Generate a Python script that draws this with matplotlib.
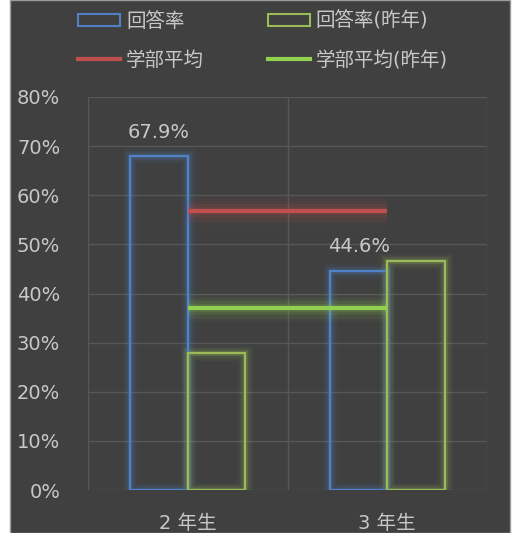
import matplotlib
matplotlib.use("Agg")
import matplotlib.pyplot as plt
from matplotlib.patches import Rectangle, Patch
from matplotlib.lines import Line2D
import numpy as np

plt.rcParams['font.family'] = ['DejaVu Sans', 'Noto Sans CJK JP']

categories = ["2 年生", "3 年生"]
rate = [67.9, 44.6]
rate_prev = [27.9, 46.7]
dept_avg = [56.8, 56.8]
dept_avg_prev = [37.1, 37.1]
yticks = [0, 10, 20, 30, 40, 50, 60, 70, 80]

bg = "#404040"
txt = "#c8c8c8"
grid_c = "#575757"
blue = "#4f81c7"
green_bar = "#9bbb59"
red = "#c0504d"
green_line = "#92d050"
fs = 14

fig = plt.figure(figsize=(5.16, 5.33), dpi=100)
fig.patch.set_facecolor("white")
fig.patches.append(Rectangle((10 / 516, 0), 500 / 516, 1, transform=fig.transFigure,
                             facecolor=bg, edgecolor="#9a9a9a", linewidth=1.0, zorder=-10))

ax = fig.add_axes([88 / 516, 43 / 533, 399 / 516, 393 / 533])
ax.set_facecolor("none")
for sp in ax.spines.values():
    sp.set_visible(False)

ax.set_xlim(-0.5, 1.5)
ax.set_ylim(0, 80)

# grid
for y in yticks:
    ax.axhline(y, color=grid_c, lw=1, zorder=1)
for xv in [-0.5, 0.5, 1.5]:
    ax.axvline(xv, color=grid_c, lw=1, zorder=1)

x = np.arange(len(categories))
w = 0.2875


def glow_bars(xs, vals, color):
    for lw, a in [(11, 0.05), (8, 0.07), (5.5, 0.1), (3.5, 0.16)]:
        ax.bar(xs, vals, width=w, facecolor="none", edgecolor=color, linewidth=lw,
               alpha=a, zorder=2)
    ax.bar(xs, vals, width=w, facecolor="none", edgecolor=color, linewidth=1.6, zorder=3)


glow_bars(x - w / 2, rate, blue)
glow_bars(x + w / 2, rate_prev, green_bar)


def glow_line(vals, color):
    for lw, a in [(20, 0.05), (15, 0.07), (10, 0.1), (6, 0.14)]:
        ax.plot(x, vals, color=color, lw=lw, alpha=a, solid_capstyle="butt", zorder=4)
    ax.plot(x, vals, color=color, lw=3, solid_capstyle="butt", zorder=5)


glow_line(dept_avg, red)
glow_line(dept_avg_prev, green_line)

for xi, v in zip(x - w / 2, rate):
    ax.text(xi, v + 3.0, f"{v:.1f}%", ha="center", va="bottom", color=txt, fontsize=fs)

ax.set_yticks(yticks)
ax.set_yticklabels([f"{t}%" for t in yticks])
ax.set_xticks(x)
ax.set_xticklabels(categories)
ax.tick_params(axis="both", length=0, colors=txt, labelsize=fs)
ax.tick_params(axis="y", pad=20)
ax.tick_params(axis="x", pad=17)

handles = [
    Patch(facecolor="none", edgecolor=blue, linewidth=1.5),
    Line2D([0], [0], color=red, lw=3),
    Patch(facecolor="none", edgecolor=green_bar, linewidth=1.5),
    Line2D([0], [0], color=green_line, lw=3),
]
labels = ["回答率", "学部平均", "回答率(昨年)", "学部平均(昨年)"]
leg = fig.legend(handles, labels, loc="upper center", bbox_to_anchor=(0.51, 1.012), ncol=2,
                 frameon=False, fontsize=fs, handlelength=2.15, handleheight=0.6,
                 columnspacing=3.3, labelspacing=1.05, handletextpad=0.3)
for t in leg.get_texts():
    t.set_color(txt)

fig.savefig("out.png", dpi=100, facecolor=fig.get_facecolor())
